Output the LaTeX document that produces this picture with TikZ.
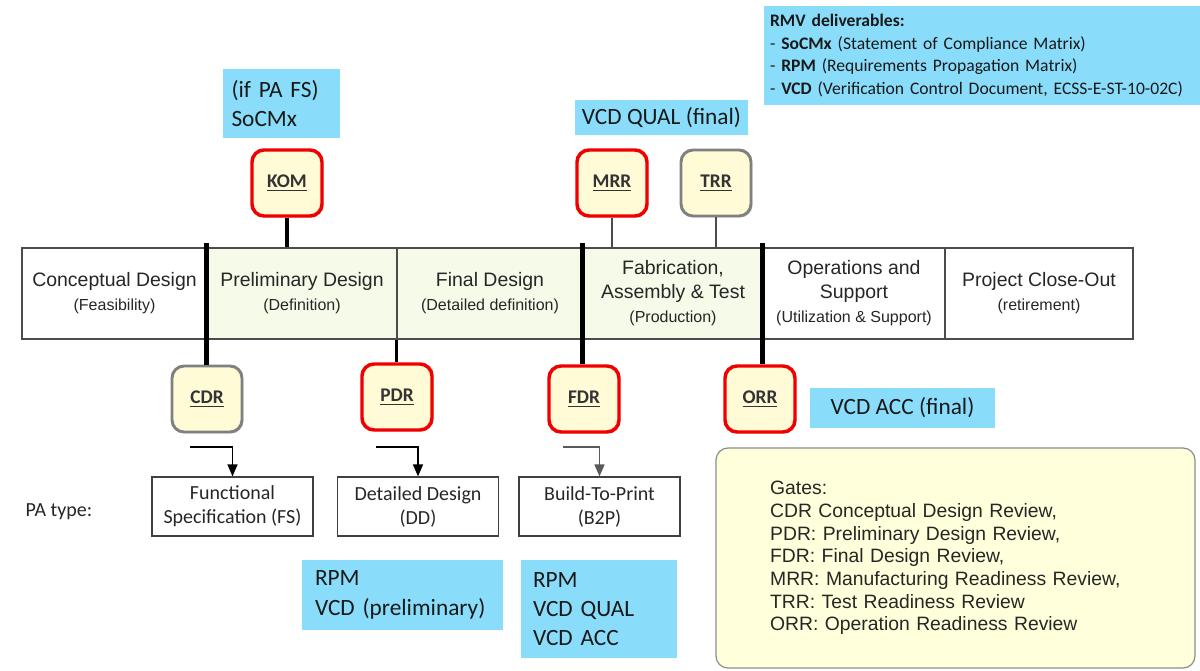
\documentclass[tikz,border=0pt]{standalone}
\usepackage{fontspec}
\setmainfont{Carlito}
\newfontfamily\arialf{Liberation Sans}
\usetikzlibrary{arrows.meta,shadows}
\definecolor{bluebg}{RGB}{137,221,251}
\definecolor{gatefill}{RGB}{255,251,214}
\definecolor{greenfill}{RGB}{245,251,232}
\definecolor{legfill}{RGB}{255,255,219}
\definecolor{gatered}{RGB}{240,0,0}
\definecolor{gategray}{RGB}{128,128,128}
\begin{document}
\begin{tikzpicture}[x=0.75pt,y=-0.75pt,
  phase/.style={draw=black!70, line width=0.8pt, minimum height=68.25pt, inner sep=0pt,
    align=center, text=black!85, font=\arialf\fontsize{14.6}{18}\selectfont},
  gate/.style={rounded corners=9pt, minimum width=52.5pt, minimum height=49.5pt, fill=gatefill,
    line width=2.6pt, inner sep=0pt, text=black!80, font=\bfseries\fontsize{14.5}{16}\selectfont,
    drop shadow={opacity=0.25, shadow xshift=1.2pt, shadow yshift=-1.2pt}},
  redgate/.style={gate, draw=gatered},
  graygate/.style={gate, draw=gategray, line width=2.2pt},
  bluebox/.style={fill=bluebg, inner sep=0pt, font=\fontsize{17.5}{22}\selectfont, text=black!90},
  patbox/.style={draw=black!75, line width=0.9pt, minimum width=120.75pt, minimum height=44.25pt,
    inner sep=0pt, align=center, font=\fontsize{15}{18}\selectfont, text=black!85},
  thickdiv/.style={line width=3.4pt, black},
  kline/.style={line width=2.3pt, black},
  thinconn/.style={line width=1.1pt, black!70},
  elbow/.style={line width=1.1pt, -{Triangle[length=9pt,width=7.5pt]}}
]
\useasboundingbox (0,0) rectangle (1200,671);

% phase bar
\node[phase, minimum width=138.75pt] (P1) at (114.5,293.5) {Conceptual Design\\{\fontsize{12}{18}\selectfont (Feasibility)}};
\node[phase, minimum width=142.5pt, fill=greenfill] (P2) at (302,293.5) {Preliminary Design\\{\fontsize{12}{18}\selectfont (Definition)}};
\node[phase, minimum width=139.5pt, fill=greenfill] (P3) at (490,293.5) {Final Design\\{\fontsize{12}{18}\selectfont (Detailed definition)}};
\node[phase, minimum width=135pt, fill=greenfill] (P4) at (673,293.5) {Fabrication,\\Assembly \& Test\\{\fontsize{12}{18}\selectfont (Production)}};
\node[phase, minimum width=136.5pt] (P5) at (854,293.5) {Operations and\\Support\\{\fontsize{12}{18}\selectfont (Utilization \& Support)}};
\node[phase, minimum width=141pt] (P6) at (1039,293.5) {Project Close-Out\\{\fontsize{12}{18}\selectfont (retirement)}};

% gates
\node[redgate] (KOM) at (287,183) {\underline{KOM}};
\node[redgate] (MRR) at (612,183) {\underline{MRR}};
\node[graygate] (TRR) at (716,183) {\underline{TRR}};
\node[graygate] (CDR) at (207,399) {\underline{CDR}};
\node[redgate] (PDR) at (397,397) {\underline{PDR}};
\node[redgate] (FDR) at (584,399) {\underline{FDR}};
\node[redgate] (ORR) at (760,399) {\underline{ORR}};

% connectors gate <-> phase bar
\draw[kline] (KOM.south) -- (KOM.south |- P2.north);
\draw[thinconn] (MRR.south) -- (MRR.south |- P4.north);
\draw[thinconn] (TRR.south) -- (TRR.south |- P4.north);
\draw[thickdiv] ([yshift=3pt]P2.north west) -- (P2.north west |- CDR.north);
\draw[kline] (P3.south west) -- (P3.south west |- PDR.north);
\draw[thickdiv] ([yshift=3pt]P4.north west) -- (P4.north west |- FDR.north);
\draw[thickdiv] ([yshift=3pt]P5.north west) -- (P5.north west |- ORR.north);

% PA type boxes
\node[anchor=west, font=\fontsize{15}{17}\selectfont, text=black!85] (patype) at (21,512) {PA type:};
\node[patbox] (FS) at (232.5,506.5) {Functional\\Specification (FS)};
\node[patbox] (DD) at (418,506.5) {Detailed Design\\(DD)};
\node[patbox] (B2P) at (599.5,506.5) {Build-To-Print\\(B2P)};

\coordinate (a1) at (190,447);
\coordinate (a2) at (376,447);
\coordinate (a3) at (563,447);
\draw[elbow] (a1) -| (FS.north);
\draw[elbow] (a2) -| (DD.north);
\draw[elbow, black!65] (a3) -| (B2P.north);

% blue boxes
\node[bluebox, minimum width=87.75pt, minimum height=51.75pt, text width=75pt, align=left] (bKOM) at (281.5,103.5) {(if PA FS)\\SoCMx};
\node[bluebox, minimum width=129.75pt, minimum height=26.25pt, align=center] (bMRR) at (661.5,117.5) {VCD QUAL (final)};
\node[bluebox, minimum width=138.75pt, minimum height=30pt, align=center] (bORR) at (902.5,408) {VCD ACC (final)};
\node[bluebox, minimum width=150.75pt, minimum height=52.5pt, text width=131.25pt, align=left] (bDD) at (402.5,595) {RPM\\VCD (preliminary)};
\node[bluebox, minimum width=117pt, minimum height=73.5pt, text width=99pt, align=left, font=\fontsize{17.5}{21.5}\selectfont] (bB2P) at (599,609) {RPM\\VCD QUAL\\VCD ACC};
\node[bluebox, minimum width=327pt, minimum height=74.25pt, text width=318pt, align=left, font=\fontsize{13.2}{17}\selectfont] (rmv) at (982,55.5)
  {\textbf{RMV deliverables:}\\- \textbf{SoCMx} (Statement of Compliance Matrix)\\- \textbf{RPM} (Requirements Propagation Matrix)\\- \textbf{VCD} (Verification Control Document, ECSS-E-ST-10-02C)};

% legend
\node[draw=black!45, line width=0.9pt, fill=legfill, rounded corners=9pt, minimum width=359.25pt, minimum height=165pt,
  text width=278pt, inner xsep=40.5pt, align=left, text=black!85, font=\arialf\fontsize{14.5}{17}\selectfont] (legend) at (955.5,558)
  {Gates:\\CDR Conceptual Design Review,\\PDR: Preliminary Design Review,\\FDR: Final Design Review,\\MRR: Manufacturing Readiness Review,\\TRR: Test Readiness Review\\ORR: Operation Readiness Review};
\end{tikzpicture}
\end{document}
